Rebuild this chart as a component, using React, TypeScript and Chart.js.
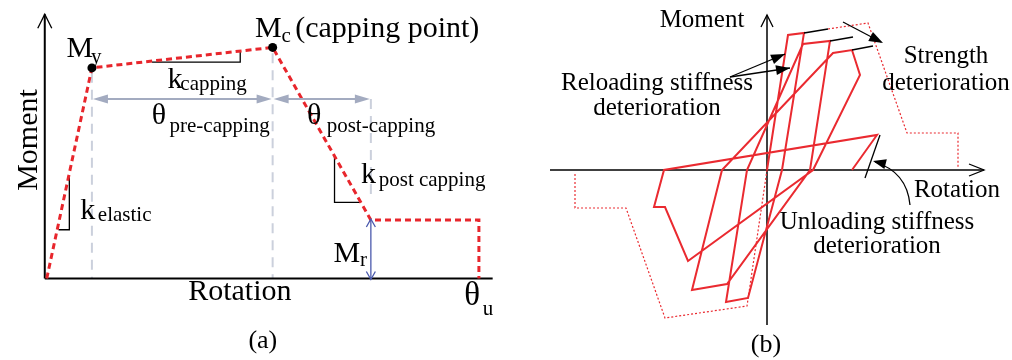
import React, { useEffect, useRef } from "react";
import { Chart, registerables } from "chart.js";
Chart.register(...registerables);

const SERIF = '"Liberation Serif", "Times New Roman", serif';

// ---------------- Panel (a): backbone (rotation / moment, arbitrary units) ----------------
const backboneRotation = [0.2, 4.8, 23.2, 33.2, 44.2, 44.2];
const backboneMoment = [0, 21.6, 23.7, 6.0, 6.0, 0];
const keyRotation = [4.8, 23.2]; // yield point, capping point
const keyMoment = [21.6, 23.7];
const guideRotation = [4.8, 23.2, 33.2];
const guideTop = [21.1, 23.1, 18.4];
const guideBottom = [0, 0, 8.6];
const dimensionLevel = 18.4;
const residualRotation = 33.2;
const residualMoment = 6.0;
const axisARotation = [0, 45.6];
const axisAMoment = [0, 27.1];
const kElasticRot = [2.5, 2.5, 1.4];
const kElasticMom = [10.5, 5.0, 5.0];
const kCappingRot = [10.9, 19.9, 19.9];
const kCappingMom = [22.2, 22.2, 23.3];
const kPostRot = [29.5, 29.5, 32.1];
const kPostMom = [12.6, 7.8, 7.8];

// ---------------- Panel (b): hysteresis ----------------
const hystRotation = [0, 2.1, 3.7, 1.5, -1.9, -4.1, -2.0, 3.6, 6.3, 4.3, -4.0, -7.5, -4.5, 6.6, 8.5, 9.3, 4.6, -7.9, -10.2, -11.3, -10.3, 11.0, 8.5];
const hystMoment = [0, 13.5, 13.7, 0, -12.8, -13.2, 0, 12.6, 12.9, 0, -11.4, -12.0, 0, 11.7, 12.0, 9.5, 0, -9.1, -3.7, -3.7, 0, 3.5, 0];
const envNegRotation = [0, -2.0, -10.2, -14.1, -19.2, -19.2];
const envNegMoment = [0, -13.6, -14.8, -3.8, -3.8, -0.2];
const envPosRotation = [6.1, 10.1, 14.0, 19.1, 19.1];
const envPosMoment = [14.1, 14.7, 3.7, 3.7, 0.2];
const tangentRot = [[3.7, 6.1], [6.3, 8.6], [8.5, 10.6], [11.3, 9.8]];
const tangentMom = [[13.7, 14.1], [12.9, 13.3], [12.0, 12.4], [3.5, -0.8]];
const axisBRotation = [-21.7, 21.7];
const axisBMoment = [-15.5, 15.5];

const pts = (xs: number[], ys: number[]) => xs.map((x, i) => ({ x, y: ys[i] }));

const line = (data: any[], color: string, width: number, dash: number[] = [], order = 1) => ({
  data,
  borderColor: color,
  backgroundColor: color,
  borderWidth: width,
  borderDash: dash,
  showLine: true,
  pointRadius: 0,
  fill: false,
  order,
  borderCapStyle: "butt",
  borderJoinStyle: "miter",
});

const opts = (xmin: number, xmax: number, ymin: number, ymax: number, plugin: any) => ({
  type: "scatter" as const,
  options: {
    responsive: false,
    maintainAspectRatio: false,
    animation: false,
    events: [],
    layout: { padding: 0 },
    plugins: { legend: { display: false }, tooltip: { enabled: false } },
    scales: {
      x: { type: "linear", min: xmin, max: xmax, display: false },
      y: { type: "linear", min: ymin, max: ymax, display: false },
    },
  },
  plugins: [plugin],
});

function txt(ctx: CanvasRenderingContext2D, s: string, x: number, y: number, size: number, align: CanvasTextAlign = "left", color = "#000") {
  ctx.font = `${size}px ${SERIF}`;
  ctx.textAlign = align;
  ctx.textBaseline = "alphabetic";
  ctx.fillStyle = color;
  ctx.fillText(s, x, y);
}

function head(ctx: CanvasRenderingContext2D, x1: number, y1: number, x2: number, y2: number, len: number, half: number, filled: boolean, color: string, lw = 1.2) {
  const a = Math.atan2(y2 - y1, x2 - x1);
  const bx = x2 - len * Math.cos(a);
  const by = y2 - len * Math.sin(a);
  const px = -Math.sin(a) * half;
  const py = Math.cos(a) * half;
  ctx.beginPath();
  ctx.moveTo(bx + px, by + py);
  ctx.lineTo(x2, y2);
  ctx.lineTo(bx - px, by - py);
  ctx.setLineDash([]);
  if (filled) {
    ctx.closePath();
    ctx.fillStyle = color;
    ctx.fill();
  } else {
    ctx.strokeStyle = color;
    ctx.lineWidth = lw;
    ctx.stroke();
  }
}

function seg(ctx: CanvasRenderingContext2D, x1: number, y1: number, x2: number, y2: number, color: string, lw: number) {
  ctx.setLineDash([]);
  ctx.strokeStyle = color;
  ctx.lineWidth = lw;
  ctx.beginPath();
  ctx.moveTo(x1, y1);
  ctx.lineTo(x2, y2);
  ctx.stroke();
}

const annotA = {
  id: "annotA",
  afterDatasetsDraw(chart: any) {
    const ctx: CanvasRenderingContext2D = chart.ctx;
    const X = (v: number) => chart.scales.x.getPixelForValue(v);
    const Y = (v: number) => chart.scales.y.getPixelForValue(v);
    ctx.save();
    // y axis arrow (open)
    head(ctx, X(0), Y(0), X(0), Y(axisAMoment[1]), 14, 7, false, "#000", 1.3);
    // dimension arrows
    const g = "#a3abc0";
    const yd = Y(dimensionLevel);
    const pairs = [[guideRotation[0], guideRotation[1]], [guideRotation[1], guideRotation[2]]];
    for (const [a, b] of pairs) {
      const xa = X(a) + 1, xb = X(b) - 1;
      seg(ctx, xa + 8, yd, xb - 8, yd, g, 2);
      head(ctx, xb, yd, xa, yd, 15, 4.5, true, g);
      head(ctx, xa, yd, xb, yd, 15, 4.5, true, g);
    }
    // Mr arrow
    const blue = "#4a59ad";
    const xr = X(residualRotation);
    seg(ctx, xr, Y(0), xr, Y(residualMoment), blue, 1.3);
    head(ctx, xr, Y(0), xr, Y(residualMoment) - 1, 8, 4.5, false, blue, 1.3);
    head(ctx, xr, Y(residualMoment), xr, Y(0) + 1, 8, 4.5, false, blue, 1.3);
    // texts
    txt(ctx, "M", X(2.2), Y(22.7), 30);
    txt(ctx, "y", X(4.7), Y(22.1), 21);
    txt(ctx, "M", X(21.4), Y(24.8), 30);
    txt(ctx, "c", X(24.1), Y(24.3), 21);
    txt(ctx, "(capping point)", X(25.5), Y(24.8), 30);
    txt(ctx, "k", X(12.5), Y(19.5), 30);
    txt(ctx, "capping", X(13.8), Y(19.3), 21);
    txt(ctx, "θ", X(10.9), Y(15.8), 30);
    txt(ctx, "pre-capping", X(12.7), Y(15.0), 21);
    txt(ctx, "θ", X(26.7), Y(15.8), 30);
    txt(ctx, "post-capping", X(28.7), Y(15.0), 21);
    txt(ctx, "k", X(32.2), Y(9.8), 30);
    txt(ctx, "post capping", X(34.0), Y(9.5), 21);
    txt(ctx, "k", X(3.6), Y(6.1), 30);
    txt(ctx, "elastic", X(5.4), Y(5.9), 21);
    txt(ctx, "M", X(29.4), Y(1.7), 30);
    txt(ctx, "r", X(32.1), Y(1.3), 21);
    txt(ctx, "Rotation", X(14.6), Y(-2.2), 30);
    txt(ctx, "θ", X(42.7), Y(-2.7), 33);
    txt(ctx, "u", X(44.6), Y(-3.7), 21);
    txt(ctx, "(a)", X(22.2), Y(-7.1), 26, "center");
    ctx.save();
    ctx.translate(X(-0.8), Y(14.2));
    ctx.rotate(-Math.PI / 2);
    txt(ctx, "Moment", 0, 0, 30, "center");
    ctx.restore();
    ctx.restore();
  },
};

const annotB = {
  id: "annotB",
  afterDatasetsDraw(chart: any) {
    const ctx: CanvasRenderingContext2D = chart.ctx;
    const X = (v: number) => chart.scales.x.getPixelForValue(v);
    const Y = (v: number) => chart.scales.y.getPixelForValue(v);
    ctx.save();
    // axis arrows
    head(ctx, X(0), Y(0), X(0), Y(axisBMoment[1]), 12, 6, false, "#000", 1.3);
    head(ctx, X(0), Y(0), X(axisBRotation[1]), Y(0), 15, 6, false, "#000", 1.3);
    // strength deterioration arrow
    seg(ctx, X(7.6), Y(14.8), X(11.4), Y(12.8), "#000", 1.3);
    head(ctx, X(7.6), Y(14.8), X(11.6), Y(12.7), 14, 5, true, "#000");
    // reloading stiffness arrows
    for (const [tx, ty] of [[1.8, 11.6], [2.3, 10.2]]) {
      seg(ctx, X(-3.7), Y(9.3), X(tx), Y(ty), "#000", 1.3);
      head(ctx, X(-3.7), Y(9.3), X(tx), Y(ty), 14, 5, true, "#000");
    }
    // unloading curved arrow
    ctx.setLineDash([]);
    ctx.strokeStyle = "#000";
    ctx.lineWidth = 1.3;
    ctx.beginPath();
    ctx.moveTo(X(14.3), Y(-3.5));
    ctx.quadraticCurveTo(X(14.0), Y(-0.2), X(10.8), Y(0.8));
    ctx.stroke();
    head(ctx, X(13.0), Y(0.3), X(10.6), Y(0.9), 13, 5, true, "#000");
    // texts
    txt(ctx, "Moment", X(-6.5), Y(14.3), 25, "center");
    txt(ctx, "Reloading stiffness", X(-11.0), Y(8.0), 25, "center");
    txt(ctx, "deterioration", X(-11.0), Y(5.5), 25, "center");
    txt(ctx, "Strength", X(17.9), Y(10.7), 25, "center");
    txt(ctx, "deterioration", X(17.9), Y(8.0), 25, "center");
    txt(ctx, "Rotation", X(19.0), Y(-2.7), 25, "center");
    txt(ctx, "Unloading stiffness", X(11.0), Y(-5.9), 25, "center");
    txt(ctx, "deterioration", X(11.0), Y(-8.3), 25, "center");
    txt(ctx, "(b)", X(-0.1), Y(-18.2), 26, "center");
    ctx.restore();
  },
};

export default function App() {
  const refA = useRef<HTMLCanvasElement>(null);
  const refB = useRef<HTMLCanvasElement>(null);

  useEffect(() => {
    const red = "#e8262c";
    const gray = "#cbd0dc";
    const dsA: any[] = [
      {
        data: pts(keyRotation, keyMoment),
        showLine: false,
        pointRadius: 4.5,
        pointBackgroundColor: "#000",
        pointBorderWidth: 0,
        order: 0,
      },
      line(pts(backboneRotation, backboneMoment), red, 3, [6, 4], 1),
      line(pts(axisARotation, [0, 0]), "#000", 2, [], 3),
      line(pts([0, 0], axisAMoment), "#000", 2, [], 3),
      line(pts(kElasticRot, kElasticMom), "#000", 1.3, [], 4),
      line(pts(kCappingRot, kCappingMom), "#000", 1.3, [], 4),
      line(pts(kPostRot, kPostMom), "#000", 1.3, [], 4),
      ...guideRotation.map((r, i) => line(pts([r, r], [guideTop[i], guideBottom[i]]), gray, 2, [10, 7], 6)),
    ];
    const chartA = new Chart(refA.current!, { ...opts(-4.1, 46.5, -7.9, 28.1, annotA), data: { datasets: dsA } } as any);

    const redB = "#ea2a30";
    const dsB: any[] = [
      line(pts(hystRotation, hystMoment), redB, 2, [], 1),
      line(pts(envNegRotation, envNegMoment), redB, 1.2, [2, 2], 2),
      line(pts(envPosRotation, envPosMoment), redB, 1.2, [2, 2], 2),
      ...tangentRot.map((r, i) => line(pts(r, tangentMom[i]), "#000", 1.3, [], 0)),
      line(pts(axisBRotation, [0, 0]), "#000", 1.5, [], 3),
      line(pts([0, 0], axisBMoment), "#000", 1.5, [], 3),
    ];
    const chartB = new Chart(refB.current!, { ...opts(-26.1, 24.5, -19.0, 17.0, annotB), data: { datasets: dsB } } as any);
    return () => {
      chartA.destroy();
      chartB.destroy();
    };
  }, []);

  return (
    <div style={{ position: "absolute", left: 0, top: 0, width: 1012, height: 360, display: "flex", background: "#fff" }}>
      <canvas ref={refA} width={506} height={360} style={{ width: 506, height: 360, display: "block" }} />
      <canvas ref={refB} width={506} height={360} style={{ width: 506, height: 360, display: "block" }} />
    </div>
  );
}
